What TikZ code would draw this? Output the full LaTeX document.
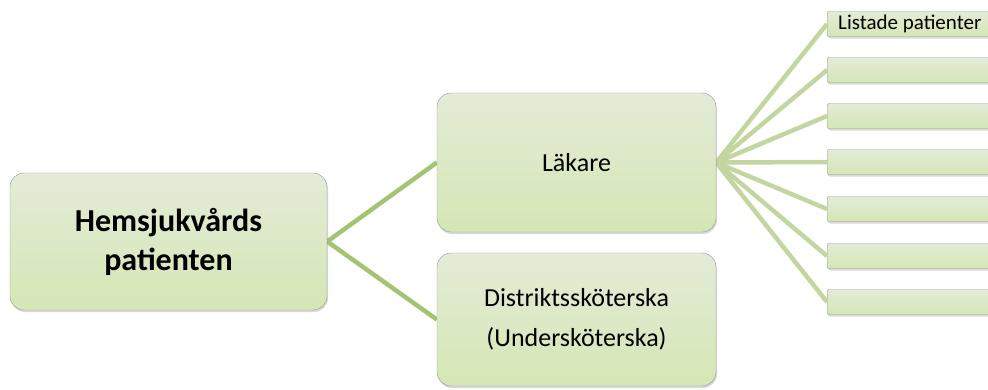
\documentclass[tikz,border=0pt]{standalone}
\usepackage{fontspec}
\setmainfont{Carlito}
\usepackage{xcolor}
\usepackage{tikz}
\usetikzlibrary{shadows,backgrounds}

\definecolor{boxtop}{RGB}{228,235,216}
\definecolor{boxbot}{RGB}{212,231,180}
\definecolor{boxline}{RGB}{150,150,150}
\definecolor{rootlink}{RGB}{165,196,115}
\definecolor{leaflink}{RGB}{196,214,160}

\begin{document}
\begin{tikzpicture}[x=1pt,y=-1pt,
  box/.style={draw=boxline,top color=boxtop,bottom color=boxbot,
    rounded corners=14pt,inner sep=0pt,align=center,
    drop shadow={opacity=0.3,shadow xshift=1pt,shadow yshift=-2pt}},
  leafbox/.style={draw=boxline,top color=boxtop,bottom color=boxbot,
    rounded corners=2pt,anchor=west,minimum height=25pt,inner ysep=0pt,
    inner xsep=11pt,text width=180pt,align=flush left,
    font=\fontsize{21}{24}\selectfont,
    drop shadow={opacity=0.3,shadow xshift=1pt,shadow yshift=-2pt}},
  link/.style={line width=4.5pt}]
  \useasboundingbox (0,0) rectangle (988,389);
  \clip (0,0) rectangle (988,389);
  % Root
  \node[box,minimum width=317pt,minimum height=137pt,
        font=\bfseries\fontsize{32}{39}\selectfont] (root) at (168.5,241.5)
        {Hemsjukvårds\\patienten};
  % Second level
  \node[box,minimum width=279pt,minimum height=139pt,
        font=\fontsize{26}{32}\selectfont] (lak) at (576.5,162.5) {Läkare};
  \node[box,minimum width=279pt,minimum height=133pt,
        font=\fontsize{26}{40}\selectfont] (dsk) at (576.5,319.5)
        {Distriktssköterska\\(Undersköterska)};
  % Leaves
  \foreach \i/\y in {1/24,2/70,3/116,4/162,5/209,6/256,7/302}
    \node[leafbox] (leaf\i) at (827,\y) {\ifnum\i=1 Listade patienter\fi};
  % Links
  \begin{scope}[on background layer]
    \draw[link,rootlink] (root.east) -- (lak.west);
    \draw[link,rootlink] (root.east) -- (dsk.west);
    \foreach \i in {1,...,7}
      \draw[link,leaflink] (lak.east) -- (leaf\i.west);
  \end{scope}
\end{tikzpicture}
\end{document}
